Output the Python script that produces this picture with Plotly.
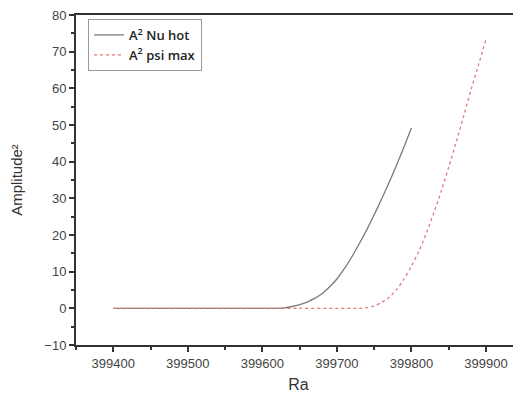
import plotly.graph_objects as go

ra_nu = [399400, 399450, 399500, 399550, 399600, 399620, 399630, 399640, 399650, 399660,
         399670, 399680, 399690, 399700, 399710, 399720, 399730, 399740, 399750,
         399760, 399770, 399780, 399790, 399800]
amp_nu = [0, 0, 0, 0, 0, 0, 0.15, 0.5, 1.0, 1.7,
          2.7, 4.0, 5.8, 8.0, 10.8, 14.0, 17.6, 21.4, 25.5,
          29.8, 34.3, 39.0, 44.0, 49.2]

ra_psi = [399400, 399450, 399500, 399550, 399600, 399650, 399700, 399730, 399740, 399750,
          399760, 399770, 399780, 399790, 399800, 399810, 399820, 399830, 399840,
          399850, 399860, 399870, 399880, 399890, 399900]
amp_psi = [0, 0, 0, 0, 0, 0, 0, 0, 0.2, 0.7,
           1.6, 3.0, 5.1, 8.0, 11.5, 15.6, 20.5, 26.0, 32.0,
           38.5, 45.3, 52.4, 59.6, 66.4, 73.3]

names = ["A<sup>2</sup> Nu hot", "A<sup>2</sup> psi max"]

fig = go.Figure()
fig.add_trace(go.Scatter(x=ra_nu, y=amp_nu, mode="lines", name=names[0],
                         line=dict(color="#7a7a7a", width=1.3, shape="spline", smoothing=0.8)))
fig.add_trace(go.Scatter(x=ra_psi, y=amp_psi, mode="lines", name=names[1],
                         line=dict(color="#e07a7a", width=1.3, dash="dot", shape="spline", smoothing=0.8)))

axis_font = dict(family="Liberation Sans, Arial", size=13, color="#444444")
fig.update_layout(
    width=513, height=389,
    margin=dict(l=68, r=0, t=7, b=52),
    paper_bgcolor="white", plot_bgcolor="white",
    showlegend=True,
    legend=dict(x=0.027, y=0.988, xanchor="left", yanchor="top",
                bordercolor="#999999", borderwidth=1, bgcolor="white",
                font=dict(family="Open Sans", size=13, color="#222222", weight=600),
                tracegroupgap=0, itemwidth=30),
    xaxis=dict(range=[399350, 399947], tickmode="linear", tick0=399400, dtick=100,
               ticks="outside", ticklen=5, tickwidth=1.5, tickcolor="#333333",
               showline=True, linecolor="#333333", linewidth=2, mirror=True,
               showgrid=False, zeroline=False, tickfont=axis_font,
               tickformat="d", automargin=False, ticklabeloverflow="allow",
               minor=dict(dtick=50, tick0=399350, ticks="outside", ticklen=3,
                          tickwidth=1.5, tickcolor="#333333", showgrid=False),
               title=dict(text="Ra", font=dict(family="Liberation Sans, Arial", size=16, color="#333333"),
                          standoff=9)),
    yaxis=dict(range=[-10, 80], tickmode="linear", tick0=-10, dtick=10,
               ticks="outside", ticklen=5, tickwidth=1.5, tickcolor="#333333",
               showline=True, linecolor="#333333", linewidth=2,
               showgrid=False, zeroline=False, tickfont=axis_font, automargin=False,
               ticklabeloverflow="allow",
               minor=dict(dtick=5, tick0=-10, ticks="outside", ticklen=3,
                          tickwidth=1.5, tickcolor="#333333", showgrid=False),
               title=dict(text="Amplitude²", font=dict(family="Liberation Sans, Arial", size=15, color="#333333"),
                          standoff=18)),
)

fig.write_html("out.html")
